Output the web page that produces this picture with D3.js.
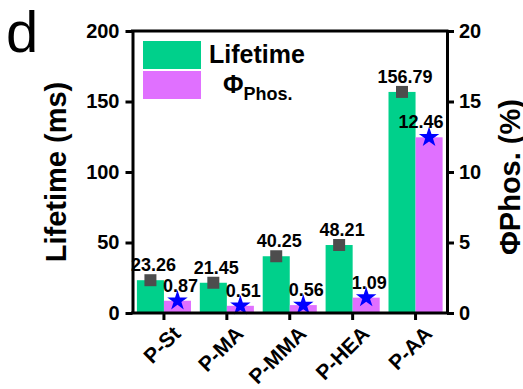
<!DOCTYPE html>
<html>
<head>
<meta charset="utf-8">
<script src="https://cdn.jsdelivr.net/npm/d3@7/dist/d3.min.js"></script>
<style>
  body { margin: 0; background: #fff; }
  text { font-family: "Liberation Sans", Arial, sans-serif; }
</style>
</head>
<body>
<svg id="chart" width="523" height="389"></svg>
<script>
// data
const categories = ['P-St', 'P-MA', 'P-MMA', 'P-HEA', 'P-AA'];
const lifetime = [23.26, 21.45, 40.25, 48.21, 156.79];   // ms
const phos = [0.87, 0.51, 0.56, 1.09, 12.46];            // %
const leftTicks = [0, 50, 100, 150, 200];
const rightTicks = [0, 5, 10, 15, 20];

const green = '#00d08b', purple = '#e070ff';
const svg = d3.select('#chart');
const pLeft = 132.5, pRight = 447, pTop = 31, pBottom = 313;

const x = d3.scaleBand().domain(categories).range([pLeft, pRight])
  .paddingInner(0.14).paddingOuter(0.07);
const yL = d3.scaleLinear().domain([0, 200]).range([pBottom, pTop]);
const yR = d3.scaleLinear().domain([0, 20]).range([pBottom, pTop]);
const bw = x.bandwidth() / 2;

// panel letter
svg.append('text').attr('x', 6).attr('y', 52).attr('font-size', 58).text('d');

// bars
svg.selectAll('.bl').data(categories).join('rect')
  .attr('x', d => x(d)).attr('width', bw)
  .attr('y', (d, i) => yL(lifetime[i])).attr('height', (d, i) => pBottom - yL(lifetime[i]))
  .attr('fill', green);
svg.selectAll('.bp').data(categories).join('rect')
  .attr('x', d => x(d) + bw).attr('width', bw)
  .attr('y', (d, i) => yR(phos[i])).attr('height', (d, i) => pBottom - yR(phos[i]))
  .attr('fill', purple);

// markers
svg.selectAll('.sq').data(categories).join('path')
  .attr('d', d3.symbol(d3.symbolSquare, 144))
  .attr('transform', (d, i) => `translate(${x(d) + bw / 2},${yL(lifetime[i])})`)
  .attr('fill', '#4d4d4d');
svg.selectAll('.st').data(categories).join('path')
  .attr('d', d3.symbol(d3.symbolStar, 130))
  .attr('transform', (d, i) => `translate(${x(d) + bw * 1.5},${yR(phos[i])})`)
  .attr('fill', '#0000ff');

// value labels
svg.selectAll('.ll').data(categories).join('text')
  .attr('x', d => x(d) + bw / 2 + 3).attr('y', (d, i) => yL(lifetime[i]) - 9)
  .attr('text-anchor', 'middle').attr('font-size', 18).attr('font-weight', 'bold')
  .text((d, i) => lifetime[i].toFixed(2));
svg.selectAll('.pl').data(categories).join('text')
  .attr('x', (d, i) => x(d) + bw * 1.5 + (i == 4 ? -8 : 3)).attr('y', (d, i) => yR(phos[i]) - 9)
  .attr('text-anchor', 'middle').attr('font-size', 18).attr('font-weight', 'bold')
  .text((d, i) => phos[i].toFixed(2));

// axes
function styleAxis(g) {
  g.selectAll('path,line').attr('stroke', '#000').attr('stroke-width', 3);
  g.selectAll('text').attr('font-size', 20).attr('font-weight', 'bold')
    .attr('font-family', '"Liberation Sans", Arial, sans-serif').attr('fill', '#000');
}
const gl = svg.append('g').attr('transform', `translate(${pLeft},0)`)
  .call(d3.axisLeft(yL).tickValues(leftTicks).tickSize(7).tickSizeOuter(0).tickPadding(6));
styleAxis(gl);
const gr = svg.append('g').attr('transform', `translate(${pRight},0)`)
  .call(d3.axisRight(yR).tickValues(rightTicks).tickSize(7).tickSizeOuter(0).tickPadding(5));
styleAxis(gr);
const gb = svg.append('g').attr('transform', `translate(0,${pBottom})`)
  .call(d3.axisBottom(x).tickSize(7).tickSizeOuter(0));
styleAxis(gb);
gb.select('.domain').attr('d', `M${pLeft - 1.5},0H${pRight + 1.5}`);
gb.selectAll('text')
  .attr('font-size', 21)
  .attr('text-anchor', 'end')
  .attr('y', 0).attr('dy', 0)
  .attr('transform', 'translate(18,22) rotate(-45)');
svg.append('line').attr('x1', pLeft - 1.5).attr('x2', pRight + 1.5)
  .attr('y1', pTop).attr('y2', pTop).attr('stroke', '#000').attr('stroke-width', 3);

// axis titles
svg.append('text').attr('transform', `translate(66,${(pTop + pBottom) / 2}) rotate(-90)`)
  .attr('text-anchor', 'middle').attr('font-size', 29).attr('font-weight', 'bold')
  .text('Lifetime (ms)');
svg.append('text').attr('transform', `translate(520,${(pTop + pBottom) / 2 + 5}) rotate(-90)`)
  .attr('text-anchor', 'middle').attr('font-size', 29).attr('font-weight', 'bold')
  .text('ΦPhos. (%)');

// legend
svg.append('rect').attr('x', 143).attr('y', 41).attr('width', 58).attr('height', 28).attr('fill', green);
svg.append('rect').attr('x', 143).attr('y', 71).attr('width', 58).attr('height', 28).attr('fill', purple);
svg.append('text').attr('x', 209).attr('y', 63).attr('font-size', 25).attr('font-weight', 'bold').text('Lifetime');
const lt = svg.append('text').attr('x', 223).attr('y', 93).attr('font-size', 25).attr('font-weight', 'bold');
lt.append('tspan').text('Φ');
lt.append('tspan').attr('font-size', 18).attr('dy', 7).text('Phos.');
</script>
</body>
</html>
